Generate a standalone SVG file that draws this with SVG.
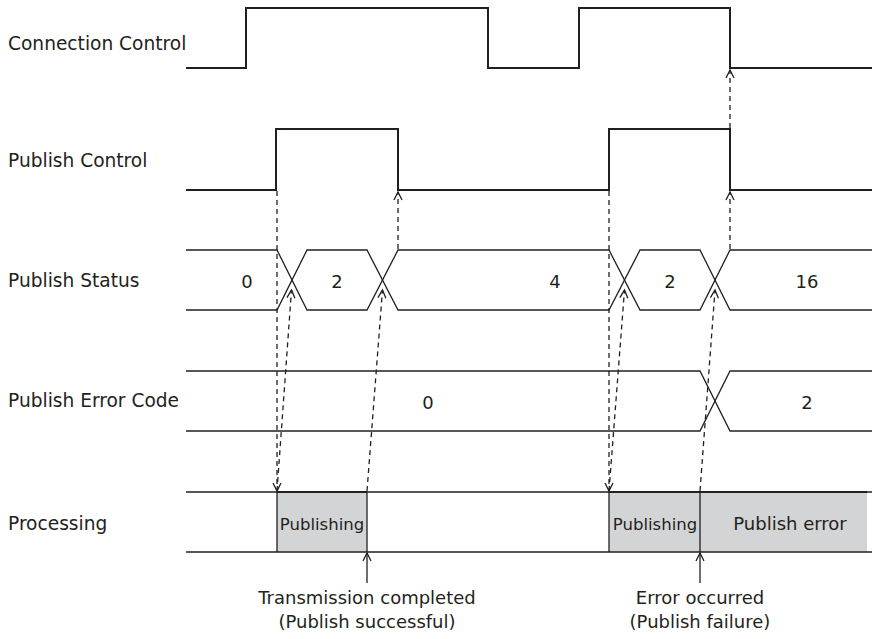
<svg xmlns="http://www.w3.org/2000/svg" width="872" height="639" viewBox="0 0 872 639">
<style>
text{font-family:"DejaVu Sans","Verdana",sans-serif;font-size:18px;fill:#231f20}
.lbl{text-anchor:start;font-size:18.6px}
.c{text-anchor:middle}
.sm{font-size:16.5px}
.sig{fill:none;stroke:#231f20;stroke-width:2}
.bus{fill:none;stroke:#231f20;stroke-width:1.3}
.dash{fill:none;stroke:#231f20;stroke-width:1.3;stroke-dasharray:5 4;marker-end:url(#ah)}
.sol{fill:none;stroke:#231f20;stroke-width:1.3;marker-end:url(#ah)}
.box{fill:#d3d4d6;stroke:none}
</style>
<defs>
<marker id="ah" markerUnits="userSpaceOnUse" markerWidth="12" markerHeight="12" viewBox="-9 -6 12 12" refX="0" refY="0" orient="auto">
<path d="M-8,-4 L0,0 L-8,4" fill="none" stroke="#231f20" stroke-width="1.3"/>
</marker>
</defs>
<g id="labels">
<text class="lbl" x="8" y="50">Connection Control</text>
<text class="lbl" x="8" y="167">Publish Control</text>
<text class="lbl" x="8" y="287">Publish Status</text>
<text class="lbl" x="8" y="407">Publish Error Code</text>
<text class="lbl" x="8" y="530">Processing</text>
</g>
<g id="connection-control">
<path class="sig" d="M186,68 H246 V8 H488 V68 H579 V8 H730 V68 H872"/>
</g>
<g id="publish-control">
<path class="sig" d="M186,190 H276 V129 H398 V190 H609 V129 H730 V190 H872"/>
</g>
<g id="publish-status">
<path class="bus" d="M186,250 H277 L307,310 H367 L398,250 H609 L640,310 H700 L730,250 H872"/>
<path class="bus" d="M186,310 H277 L307,250 H367 L398,310 H609 L640,250 H700 L730,310 H872"/>
<text class="c" x="247" y="288">0</text>
<text class="c" x="337" y="288">2</text>
<text class="c" x="555" y="288">4</text>
<text class="c" x="670" y="288">2</text>
<text class="c" x="807" y="288">16</text>
</g>
<g id="publish-error-code">
<path class="bus" d="M186,371 H700 L730,431 H872"/>
<path class="bus" d="M186,431 H700 L730,371 H872"/>
<text class="c" x="428" y="409">0</text>
<text class="c" x="807" y="409">2</text>
</g>
<g id="processing">
<rect class="box" x="277" y="492" width="90" height="60"/>
<rect class="box" x="609" y="492" width="91" height="60"/>
<rect class="box" x="700" y="492" width="167" height="60"/>
<path class="bus" d="M186,492 H872 M186,552 H872"/>
<path class="bus" d="M277,492 V552 M367,492 V552 M609,492 V552 M700,492 V552"/>
<path class="sig" d="M277,492 H367 M609,492 H867"/>
<text class="c sm" x="322" y="530">Publishing</text>
<text class="c sm" x="655" y="530">Publishing</text>
<text class="c" x="790" y="530">Publish error</text>
</g>
<g id="connectors">
<line class="dash" x1="277" y1="191" x2="277" y2="491"/>
<line class="dash" x1="277" y1="491" x2="291.5" y2="290"/>
<line class="dash" x1="367" y1="491" x2="382.5" y2="290"/>
<line class="dash" x1="398" y1="249" x2="398" y2="192"/>
<line class="dash" x1="609" y1="191" x2="609" y2="491"/>
<line class="dash" x1="609" y1="491" x2="624.5" y2="290"/>
<line class="dash" x1="700" y1="491" x2="715" y2="290"/>
<line class="dash" x1="730" y1="249" x2="730" y2="192"/>
<line class="dash" x1="730" y1="128" x2="730" y2="70"/>
<line class="sol" x1="367" y1="583" x2="367" y2="553"/>
<line class="sol" x1="700" y1="583" x2="700" y2="553"/>
</g>
<g id="notes">
<text class="c" x="367" y="604">Transmission completed</text>
<text class="c" x="367" y="628">(Publish successful)</text>
<text class="c" x="700" y="604">Error occurred</text>
<text class="c" x="700" y="628">(Publish failure)</text>
</g>
</svg>
